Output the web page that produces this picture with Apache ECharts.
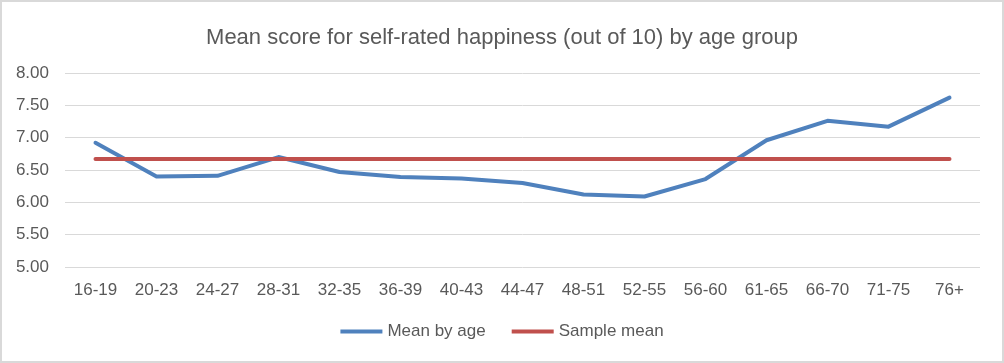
<!DOCTYPE html>
<html>
<head>
<meta charset="utf-8">
<script src="https://cdn.jsdelivr.net/npm/echarts@6/dist/echarts.min.js"></script>
<style>
html,body{margin:0;padding:0;background:#fff;}
#c{width:1004px;height:363px;box-sizing:border-box;border:2px solid #d9d9d9;}
</style>
</head>
<body>
<div id="c"></div>
<script>
const titleText = 'Mean score for self-rated happiness (out of 10) by age group';
const categories = ['16-19','20-23','24-27','28-31','32-35','36-39','40-43','44-47','48-51','52-55','56-60','61-65','66-70','71-75','76+'];
const meanByAge = [6.92,6.40,6.41,6.70,6.47,6.39,6.37,6.30,6.12,6.09,6.36,6.96,7.26,7.17,7.62];
const sampleMeanValue = 6.67;
const sampleMean = categories.map(() => sampleMeanValue);
const seriesNames = ['Mean by age','Sample mean'];
const yMin = 5, yMax = 8, yStep = 0.5;

const font = 'Liberation Sans, Arial, sans-serif';
const chart = echarts.init(document.getElementById('c'), null, {renderer:'canvas'});
chart.setOption({
  animation:false,
  title:{text:titleText,left:'center',top:20,textStyle:{fontFamily:font,fontSize:22,fontWeight:'normal',color:'#595959'}},
  grid:{left:63,right:22,top:71,bottom:94,containLabel:false},
  legend:{bottom:16,left:'center',itemWidth:42,itemHeight:4,itemGap:26,icon:'rect',
    textStyle:{fontFamily:font,fontSize:17,color:'#595959'},data:seriesNames},
  xAxis:{type:'category',data:categories,boundaryGap:true,
    axisLine:{show:false},axisTick:{show:false},
    axisLabel:{fontFamily:font,fontSize:17,color:'#595959',margin:15,interval:0}},
  yAxis:{type:'value',min:yMin,max:yMax,interval:yStep,
    axisLine:{show:false},axisTick:{show:false},
    splitLine:{lineStyle:{color:'#d9d9d9',width:1}},
    axisLabel:{fontFamily:font,fontSize:17,color:'#595959',margin:16,formatter:v=>v.toFixed(2)}},
  series:[
    {name:seriesNames[0],type:'line',data:meanByAge,symbol:'none',lineStyle:{color:'#4f81bd',width:4,cap:'round',join:'round'},itemStyle:{color:'#4f81bd'}},
    {name:seriesNames[1],type:'line',data:sampleMean,symbol:'none',lineStyle:{color:'#c0504d',width:4,cap:'round'},itemStyle:{color:'#c0504d'}}
  ]
});
</script>
</body>
</html>
